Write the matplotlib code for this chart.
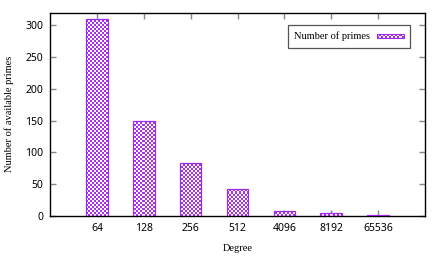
import numpy as np
import matplotlib
matplotlib.use('Agg')
import matplotlib.pyplot as plt
from matplotlib.colors import ListedColormap
from matplotlib.patches import Rectangle, Patch
from matplotlib.legend_handler import HandlerBase

# data
degrees = ['64', '128', '256', '512', '4096', '8192', '65536']
primes = [310, 150, 83, 43, 8, 4, 2]

purple = '#aa30f0'
edge = '#a028e8'
checker_cmap = ListedColormap(['#ffffff', purple])


class CheckerHandler(HandlerBase):
    """legend key drawn as a small checkerboard"""
    def create_artists(self, legend, orig_handle, xdescent, ydescent,
                       width, height, fontsize, trans):
        arts = []
        nx, ny = 13, 3
        w = width / nx
        hh = height * 0.55
        y0 = -ydescent + (height - hh) / 2
        ch = hh / ny
        for i in range(nx):
            for j in range(ny):
                if (i + j) % 2 == 0:
                    arts.append(Rectangle((-xdescent + i * w, y0 + j * ch), w, ch,
                                          facecolor=purple, edgecolor='none',
                                          transform=trans))
        arts.append(Rectangle((-xdescent, y0), width, hh, facecolor='none',
                              edgecolor=edge, lw=0.8, transform=trans))
        return arts


fig = plt.figure(figsize=(4.43, 2.56), dpi=100)
ax = fig.add_axes([50/443, 40/256, 375/443, 203.5/256])

x = np.arange(1, len(degrees) + 1)
bars = ax.bar(x, primes, width=0.46, facecolor='none', edgecolor=edge,
              lw=0.9, zorder=3)

# checkerboard fill, clipped to each bar
yy, xx = np.indices((102, 187))
board = (xx + yy) % 2
for b in bars:
    im = ax.imshow(board, extent=[0, 8, 0, 320], cmap=checker_cmap,
                   interpolation='nearest', aspect='auto', zorder=2, origin='lower')
    im.set_clip_path(b)

ax.set_xlim(0, 8)
ax.set_ylim(0, 320)
ax.set_xticks(x)
ax.set_xticklabels(degrees)
ax.set_yticks(range(0, 301, 50))

ax.tick_params(direction='in', length=4, width=1, color='#888888',
               top=True, right=True, labelsize=7.5, pad=5)
for lab in ax.get_xticklabels() + ax.get_yticklabels():
    lab.set_family('Noto Sans')
for s in ax.spines.values():
    s.set_linewidth(1)

ax.set_xlabel('Degree', family='Liberation Serif', fontsize=7.5, labelpad=7)
ax.set_ylabel('Number of available primes', family='Liberation Serif',
              fontsize=7.5, labelpad=8)

leg = ax.legend([Patch()], ['Number of primes'], handler_map={Patch: CheckerHandler()},
                loc='upper right', bbox_to_anchor=(0.975, 0.965), markerfirst=False,
                fancybox=False, framealpha=1, edgecolor='#555555',
                prop={'family': 'Liberation Serif', 'size': 7.5},
                handlelength=2.6, borderpad=0.65, handletextpad=0.6)
leg.get_frame().set_linewidth(0.9)

fig.savefig('out.png', dpi=100)
